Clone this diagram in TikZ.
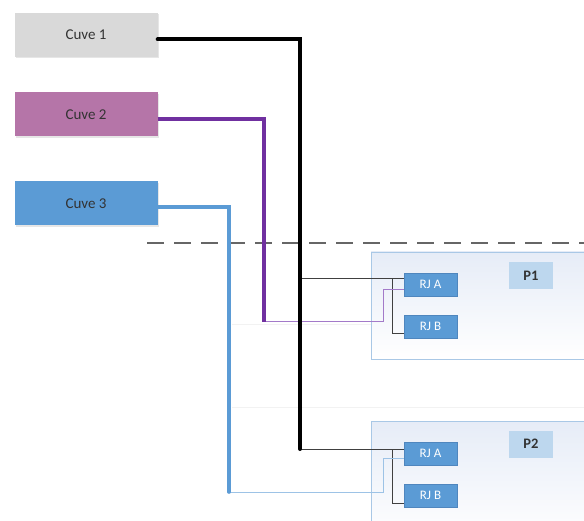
\documentclass[tikz,border=0pt]{standalone}
\usepackage{fontspec}
\setmainfont{Carlito}
\usetikzlibrary{shadows}
\definecolor{cgray}{HTML}{D9D9D9}
\definecolor{cpink}{HTML}{B575A8}
\definecolor{cblue}{HTML}{5B9BD5}
\definecolor{cpurple}{HTML}{7030A0}
\definecolor{lpurple}{HTML}{A37AC9}
\definecolor{lblue}{HTML}{9DC3E6}
\definecolor{rjborder}{HTML}{4F86BE}
\definecolor{plab}{HTML}{BDD7EE}
\definecolor{pborder}{HTML}{A9C8E6}
\definecolor{ptop}{HTML}{E6ECF7}
\definecolor{txt}{HTML}{333333}
\tikzset{
  cuve/.style={minimum width=143pt, minimum height=44pt, inner sep=0pt, text=txt,
    font=\fontsize{15}{17}\selectfont,
    drop shadow={shadow xshift=1pt, shadow yshift=-1.5pt, opacity=0.2}},
  rj/.style={fill=cblue, draw=rjborder, line width=0.6pt, minimum width=53pt, minimum height=23pt,
    inner sep=0pt, text=white, font=\fontsize{13}{15}\selectfont,
    drop shadow={shadow xshift=1pt, shadow yshift=-1pt, opacity=0.15}},
  plabel/.style={fill=plab, minimum width=44pt, minimum height=27pt, inner sep=0pt,
    text=txt, font=\fontsize{14.5}{16}\selectfont\bfseries},
  pbox/.style={draw=pborder, line width=0.8pt, shading angle=135, top color=ptop, bottom color=white},
  thick1/.style={line width=4pt},
  thin1/.style={line width=1pt},
  faint/.style={draw=black!5, line width=0.6pt}
}
\begin{document}
\begin{tikzpicture}[x=1pt,y=-1pt]
\useasboundingbox (0,0) rectangle (584,521);
\clip (0,0) rectangle (584,521);

% faint background lines
\draw[faint] (232,324) -- (371,324);
\draw[faint] (232,407) -- (584,407);

% containers
\path[pbox] (371,252) rectangle (600,359);
\path[pbox] (371,421) rectangle (600,540);
\coordinate (p1) at (371,252);
\coordinate (p2) at (371,421);

% dashed separator
\coordinate (d1) at (147,243);
\coordinate (d2) at (584,243);
\draw[black!60, line width=1.3pt, dash pattern=on 17pt off 10pt] (d1) -- (d2);

% tanks
\node[cuve, fill=cgray] (c1) at (86,35) {Cuve 1};
\node[cuve, fill=cpink] (c2) at (86,114.5) {Cuve 2};
\node[cuve, fill=cblue] (c3) at (86,203.5) {Cuve 3};

% RJ boxes and labels
\node[rj] (p1a) at (430.5,284.5) {RJ A};
\node[rj] (p1b) at (430.5,326.5) {RJ B};
\node[plabel] (p1l) at (531,275.5) {P1};
\node[rj] (p2a) at (430.5,453.5) {RJ A};
\node[rj] (p2b) at (430.5,495.5) {RJ B};
\node[plabel] (p2l) at (531,444) {P2};

% bend coordinates
\coordinate (k1) at (300,449);
\coordinate (k2) at (264,322);
\coordinate (k3) at (229,492);

% thin connections P1
\draw[black!75, thin1] (300,279) -- (p1a.west |- 0,279);
\draw[black!75, thin1] (392,279) |- (p1b.west |- 0,334);
\draw[lpurple, thin1] (k2) -| (383,290) -- (p1a.west |- 0,290);

% thin connections P2
\draw[black!75, thin1] (k1) -- (p2a.west |- 0,449);
\draw[black!75, thin1] (392,449) |- (p2b.west |- 0,503);
\draw[lblue, thin1] (k3) -| (383,458) -- (p2a.west |- 0,458);

% thick trunks
\draw[cblue, line width=3.6pt, line cap=round] ([yshift=-3.5pt]c3.east) -| (k3);
\draw[cpurple, line width=3.4pt] ([yshift=-4.5pt]c2.east) -| (k2);
\draw[black, thick1, line cap=round] ([yshift=-4.5pt]c1.east) -| (k1);
\end{tikzpicture}
\end{document}
